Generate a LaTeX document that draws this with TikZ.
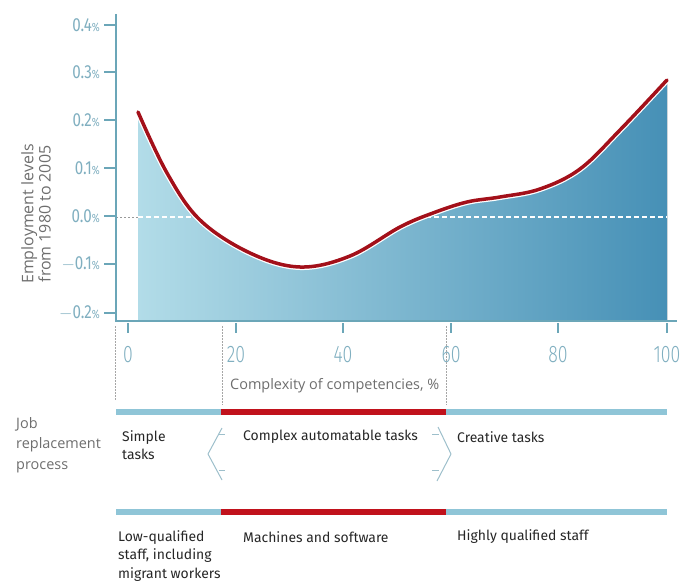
\documentclass[tikz,border=0pt]{standalone}
\usepackage{fontspec}
\setmainfont{Fira Sans}
\newfontfamily\numfont[FakeStretch=0.74]{Fira Sans Light}
\newfontfamily\ynumfont[FakeStretch=0.8]{Fira Sans}
\newfontfamily\grayfont{Open Sans}
\definecolor{axiscol}{HTML}{6BA6B8}
\definecolor{ticklab}{HTML}{80AFC0}
\definecolor{fillL}{HTML}{B2DCE8}
\definecolor{fillR}{HTML}{4690B6}
\definecolor{curvecol}{HTML}{A3101A}
\definecolor{barblue}{HTML}{8FC5D7}
\definecolor{barred}{HTML}{C1121C}
\definecolor{graytext}{HTML}{6E6E6E}
\definecolor{chevcol}{HTML}{9DBFCB}
\tikzset{
  ytl/.style={anchor=east, inner sep=0pt, text=ticklab, font=\ynumfont\fontsize{19}{19}\selectfont},
  xtl/.style={inner sep=0pt, text=ticklab, font=\numfont\fontsize{24}{24}\selectfont},
  axisline/.style={draw=axiscol, line width=1.5bp},
  guide/.style={draw=gray!70, line width=1bp, dash pattern=on 1.5bp off 1.5bp},
  bodytext/.style={anchor=west, inner sep=0pt, align=left, text=black!85, font=\fontsize{14}{18.5}\selectfont},
  graylabel/.style={inner sep=0pt, text=graytext, font=\grayfont\fontsize{14.5}{20.5}\selectfont},
  chev/.style={draw=chevcol, line width=1bp, line join=round},
}
\newcommand{\pct}{{\fontsize{12}{12}\selectfont\%}}
\newcommand{\curvepts}{(138,112) (167,173) (200,220) (250,253) (300,267) (350,256) (400,227) (433,213) (467,202) (500,197) (540,189) (580,169) (620,130) (667,80)}
\begin{document}
\begin{tikzpicture}[x=1bp,y=-1bp]
\useasboundingbox (0,0) rectangle (684,584);
% area under curve
\fill[left color=fillL, right color=fillR]
  (138,321) -- plot[smooth,tension=0.6] coordinates {\curvepts} -- (667,321) -- cycle;
% zero line
\coordinate (z0) at (116,217);
\coordinate (z1) at (138,217);
\coordinate (z2) at (667,217);
\draw[gray!80, line width=1bp, dash pattern=on 2bp off 2bp] (z0) -- (z1);
\draw[white, line width=1.3bp, dash pattern=on 5bp off 3bp] (z1) -- (z2);
% curve
\draw[white, line width=6bp] plot[smooth,tension=0.6] coordinates {\curvepts};
\draw[curvecol, line width=3.5bp, line cap=round] plot[smooth,tension=0.6] coordinates {\curvepts};
% axes
\coordinate (ytop) at (116,14);
\coordinate (orig) at (116,321);
\coordinate (xend) at (677,321);
\draw[axisline] (ytop) -- (orig) -- (xend);
% y ticks and labels
\foreach \yy/\lab/\nm in {25/0.4/a,72/0.3/b,120/0.2/c,168/0.1/d,216/0.0/e,264/$-$0.1/f,313/$-$0.2/g}{
  \coordinate (yt\nm) at (104,\yy);
  \coordinate (ya\nm) at (116,\yy);
  \draw[axisline] (yt\nm) -- (ya\nm);
  \node[ytl] (yl\nm) at (100,\yy) {\lab\pct};
}
% x ticks and labels
\foreach \xx/\lab in {128/0,236/20,343/40,451/60,558/80,667/100}{
  \coordinate (xt\lab) at (\xx,323);
  \coordinate (xb\lab) at (\xx,333);
  \draw[axisline] (xt\lab) -- (xb\lab);
  \node[xtl] (xl\lab) at (\xx,355) {\lab};
}
% guide dotted lines
\coordinate (g1a) at (115,326); \coordinate (g1b) at (115,400);
\coordinate (g2a) at (222,326); \coordinate (g2b) at (222,405);
\coordinate (g3a) at (446,326); \coordinate (g3b) at (446,405);
\draw[guide] (g1a) -- (g1b);
\draw[guide] (g2a) -- (g2b);
\draw[guide] (g3a) -- (g3b);
% axis titles
\node[graylabel, rotate=90, align=center, font=\grayfont\fontsize{16}{17.5}\selectfont] (ytitle) at (36,214) {Employment levels\\from 1980 to 2005};
\node[graylabel, anchor=west] (xtitle) at (230,386) {Complexity of competencies, \%};
\node[graylabel, anchor=west, align=left] (jrp) at (16,445) {Job\\replacement\\process};
% bars
\fill[barblue] (116,409) rectangle (221,415);
\fill[barred] (221,409) rectangle (446,415);
\fill[barblue] (446,409) rectangle (667,415);
\fill[barblue] (116,509) rectangle (221,515);
\fill[barred] (221,509) rectangle (446,515);
\fill[barblue] (446,509) rectangle (667,515);
% texts
\node[bodytext] (simple) at (122,445) {Simple\\tasks};
\node[bodytext] (complex) at (243,437) {Complex automatable tasks};
\node[bodytext] (creative) at (457,437) {Creative tasks};
\node[bodytext] (lowq) at (118,556) {Low-qualified\\staff, including\\migrant workers};
\node[bodytext] (mach) at (243,537) {Machines and software};
\node[bodytext] (highq) at (457,537) {Highly qualified staff};
% chevrons
\coordinate (lc1) at (222,428); \coordinate (lc2) at (208,454); \coordinate (lc3) at (222,480);
\draw[chev] (lc1) -- (lc2) -- (lc3);
\coordinate (lh1) at (219,434); \coordinate (lh1e) at (225,434);
\coordinate (lh2) at (219,470); \coordinate (lh2e) at (225,470);
\draw[chev] (lh1) -- (lh1e);
\draw[chev] (lh2) -- (lh2e);
\coordinate (rc1) at (438,427); \coordinate (rc2) at (451,454); \coordinate (rc3) at (437,481);
\draw[chev] (rc1) -- (rc2) -- (rc3);
\coordinate (rh1) at (432,434); \coordinate (rh1e) at (439,434);
\coordinate (rh2) at (432,470); \coordinate (rh2e) at (439,470);
\draw[chev] (rh1) -- (rh1e);
\draw[chev] (rh2) -- (rh2e);
\end{tikzpicture}
\end{document}
